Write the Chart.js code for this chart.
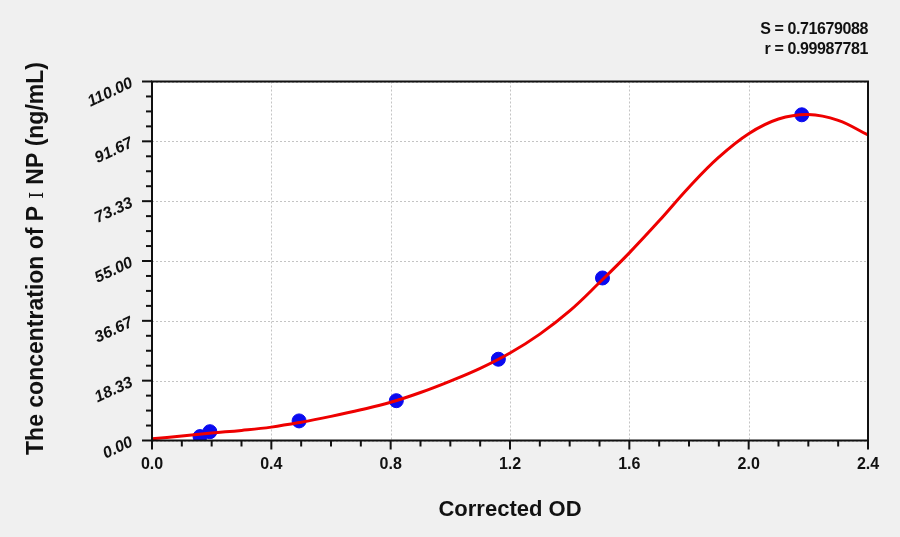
<!DOCTYPE html>
<html>
<head>
<meta charset="utf-8">
<script src="https://cdn.jsdelivr.net/npm/chart.js@4.4.1/dist/chart.umd.min.js"></script>
<style>
  html, body { margin: 0; padding: 0; background: #f0f0f0; }
  #wrap { width: 900px; height: 537px; position: relative; }
</style>
</head>
<body>
<div id="wrap"><canvas id="myChart"></canvas></div>
<script>
// standard points (blue dots)
const pointOD = [0.161, 0.194, 0.493, 0.819, 1.161, 1.510, 2.178];
const pointConc = [1.2, 2.7, 6.0, 12.2, 24.9, 49.8, 99.8];

// fitted curve
const curveOD = [0.0, 0.1, 0.2, 0.3, 0.4, 0.5, 0.6, 0.7, 0.8, 0.9, 1.0, 1.1, 1.2,
                 1.3, 1.4, 1.5, 1.6, 1.7, 1.8, 1.9, 2.0, 2.1, 2.2, 2.3, 2.4];
const curveConc = [0.5, 1.4, 2.3, 3.1, 4.1, 5.6, 7.4, 9.4, 11.7, 14.7, 18.2, 22.1, 26.8,
                   32.6, 39.7, 48.4, 57.5, 67.3, 77.6, 86.8, 94.0, 98.5, 99.9, 98.1, 93.6];

// axis ticks
const xTickValues = [0, 0.4, 0.8, 1.2, 1.6, 2.0, 2.4];
const xTickLabels = ['0.0', '0.4', '0.8', '1.2', '1.6', '2.0', '2.4'];
const yTickValues = [0, 18.333, 36.667, 55, 73.333, 91.667, 110];
const yTickLabels = ['0.00', '18.33', '36.67', '55.00', '73.33', '91.67', '110.00'];

const statS = 'S = 0.71679088';
const statR = 'r = 0.99987781';

//draws background, grid, frame, ticks and all text
const framePlugin = {
    id: 'frame',
    beforeDraw(chart) {
        const c = chart.ctx, a = chart.chartArea;
        const xs = chart.scales.x, ys = chart.scales.y;
        c.save();
        c.fillStyle = '#f0f0f0';
        c.fillRect(0, 0, chart.width, chart.height);
        c.fillStyle = '#ffffff';
        c.fillRect(a.left, a.top, a.right - a.left, a.bottom - a.top);
        // dotted grid
        c.strokeStyle = '#c4c4c4';
        c.lineWidth = 1;
        c.setLineDash([2, 2]);
        xTickValues.forEach(v => {
            const px = Math.round(xs.getPixelForValue(v)) + 0.5;
            c.beginPath(); c.moveTo(px, a.top); c.lineTo(px, a.bottom); c.stroke();
        });
        yTickValues.forEach(v => {
            const py = Math.round(ys.getPixelForValue(v)) + 0.5;
            c.beginPath(); c.moveTo(a.left, py); c.lineTo(a.right, py); c.stroke();
        });
        c.restore();
    },
    afterDraw(chart) {
        const c = chart.ctx, a = chart.chartArea;
        const xs = chart.scales.x, ys = chart.scales.y;
        c.save();
        c.strokeStyle = '#111';
        c.lineWidth = 2;
        c.strokeRect(a.left, a.top, a.right - a.left, a.bottom - a.top);

        // x ticks, major every 0.4, minor every 0.1
        for (let i = 0; i <= 24; i++) {
            const px = xs.getPixelForValue(i / 10);
            const len = (i % 4 === 0) ? 9 : 6;
            c.beginPath(); c.moveTo(px, a.bottom); c.lineTo(px, a.bottom + len); c.stroke();
        }
        // y ticks, 4 minor steps per major
        for (let i = 0; i <= 24; i++) {
            const py = ys.getPixelForValue(110 * i / 24);
            const len = (i % 4 === 0) ? 10 : 6;
            c.beginPath(); c.moveTo(a.left, py); c.lineTo(a.left - len, py); c.stroke();
        }

        c.fillStyle = '#111';
        // x tick labels
        c.font = 'bold 16px "Liberation Sans", Arial, sans-serif';
        c.textAlign = 'center';
        c.textBaseline = 'middle';
        xTickValues.forEach((v, i) => {
            c.fillText(xTickLabels[i], xs.getPixelForValue(v), a.bottom + 24);
        });
        // y tick labels, slanted
        c.font = 'italic bold 16px "Liberation Sans", Arial, sans-serif';
        c.textAlign = 'right';
        yTickValues.forEach((v, i) => {
            const py = ys.getPixelForValue(v);
            c.save();
            c.translate(a.left - 20, py + 1);
            c.rotate(-25 * Math.PI / 180);
            c.fillText(yTickLabels[i], 0, 0);
            c.restore();
        });

        // x title
        c.font = 'bold 22px "Liberation Sans", Arial, sans-serif';
        c.textAlign = 'center';
        c.fillText('Corrected OD', (a.left + a.right) / 2, 510);

        // y title, drawn in three pieces so the roman numeral gets its own font
        const boldF = 'bold 23px "Liberation Sans", Arial, sans-serif';
        const romanF = '18px "DejaVu Serif", serif';
        const p1 = 'The concentration of P', p2 = '\u2160', p3 = 'NP (ng/mL)';
        const gap = 7;
        c.font = boldF;
        const w1 = c.measureText(p1).width, w3 = c.measureText(p3).width;
        c.font = romanF;
        const w2 = c.measureText(p2).width;
        const total = w1 + gap + w2 + gap + w3;
        c.save();
        c.translate(43, 258.5);
        c.rotate(-Math.PI / 2);
        c.textAlign = 'left';
        c.textBaseline = 'alphabetic';
        let x0 = -total / 2;
        c.font = boldF; c.fillText(p1, x0, 0);
        x0 += w1 + gap;
        c.font = romanF; c.fillText(p2, x0, 0);
        x0 += w2 + gap;
        c.font = boldF; c.fillText(p3, x0, 0);
        c.restore();

        // fit stats
        c.font = 'bold 16px "Liberation Sans", Arial, sans-serif';
        c.letterSpacing = '-0.4px';
        c.textAlign = 'right';
        c.fillText(statS, a.right, 30);
        c.fillText(statR, a.right, 50);
        c.restore();
    }
};

const ctx = document.getElementById('myChart');

new Chart(ctx, {
    type: 'scatter',
    data: {
        datasets: [{
            label: 'fit',
            data: curveOD.map((x, i) => ({x: x, y: curveConc[i]})),
            showLine: true,
            borderColor: '#ee0000',
            borderWidth: 3,
            pointRadius: 0,
            tension: 0.4,
            order: 0
        }, {
            label: 'standards',
            data: pointOD.map((x, i) => ({x: x, y: pointConc[i]})),
            backgroundColor: '#0a0af0',
            borderColor: '#0a0af0',
            pointRadius: 7,
            order: 1
        }]
    },
    options: {
        responsive: true,
        maintainAspectRatio: false,
        animation: false,
        layout: { padding: { left: 152, right: 32, top: 81.5, bottom: 96.5 } },
        plugins: { legend: { display: false }, tooltip: { enabled: false } },
        scales: {
            x: { type: 'linear', min: 0, max: 2.4, display: false },
            y: { type: 'linear', min: 0, max: 110, display: false }
        }
    },
    plugins: [framePlugin]
});
</script>
</body>
</html>
